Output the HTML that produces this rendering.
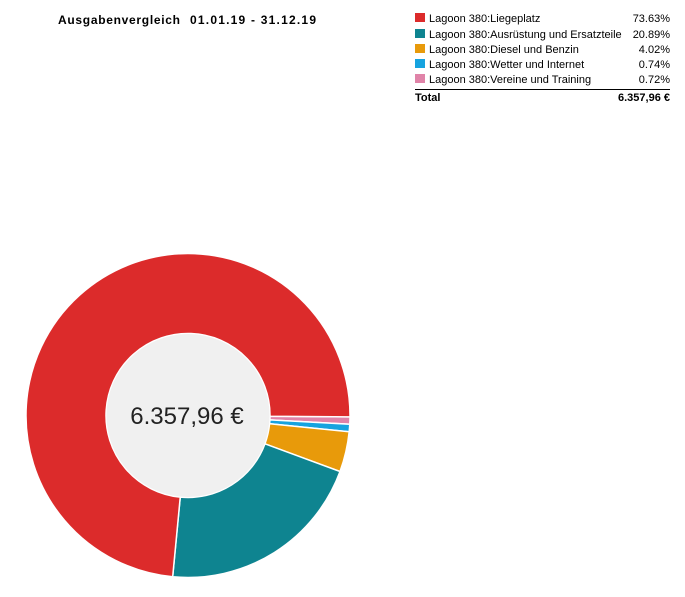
<!DOCTYPE html>
<html><head><meta charset="utf-8"><style>
body{margin:0;background:#fff;width:685px;height:592px;overflow:hidden}
</style></head><body>
<svg width="685" height="592" xmlns="http://www.w3.org/2000/svg" font-family="Liberation Sans, sans-serif">
<text x="58" y="24" font-size="12" font-weight="bold" fill="#000" textLength="122" lengthAdjust="spacing">Ausgabenvergleich</text>
<text x="190" y="24" font-size="12" font-weight="bold" fill="#000" textLength="126" lengthAdjust="spacing">01.01.19 - 31.12.19</text>
<g font-size="11" fill="#000">
<rect x="415" y="13" width="10" height="9" fill="#dc2b2b"/><text x="429" y="22">Lagoon 380:Liegeplatz</text><text x="670" y="22" text-anchor="end">73.63%</text>
<rect x="415" y="29" width="10" height="9" fill="#0e8490"/><text x="429" y="38">Lagoon 380:Ausrüstung und Ersatzteile</text><text x="670" y="38" text-anchor="end">20.89%</text>
<rect x="415" y="44" width="10" height="9" fill="#e89a0a"/><text x="429" y="53">Lagoon 380:Diesel und Benzin</text><text x="670" y="53" text-anchor="end">4.02%</text>
<rect x="415" y="59" width="10" height="9" fill="#16a3df"/><text x="429" y="68">Lagoon 380:Wetter und Internet</text><text x="670" y="68" text-anchor="end">0.74%</text>
<rect x="415" y="74" width="10" height="9" fill="#e083a8"/><text x="429" y="83">Lagoon 380:Vereine und Training</text><text x="670" y="83" text-anchor="end">0.72%</text>
<line x1="415" y1="89.5" x2="670" y2="89.5" stroke="#000" stroke-width="1"/>
<text x="415" y="101" font-weight="bold">Total</text><text x="670" y="101" text-anchor="end" font-weight="bold">6.357,96 €</text>
</g>
<g stroke="#fff" stroke-width="1.5">
<path d="M350,416.9 A162,162 0 0 1 349.76,424.24 L269.88,419.92 A82,82 0 0 0 270,416.2 Z" fill="#e083a8"/>
<path d="M349.76,424.24 A162,162 0 0 1 349.18,431.75 L269.59,423.72 A82,82 0 0 0 269.88,419.92 Z" fill="#16a3df"/>
<path d="M349.18,431.75 A162,162 0 0 1 340.01,471.51 L264.94,443.85 A82,82 0 0 0 269.59,423.72 Z" fill="#e89a0a"/>
<path d="M340.01,471.51 A162,162 0 0 1 172.67,576.77 L180.24,497.13 A82,82 0 0 0 264.94,443.85 Z" fill="#0e8490"/>
<path d="M172.67,576.77 A162,162 0 1 1 350,416.9 L270,416.2 A82,82 0 1 0 180.24,497.13 Z" fill="#dc2b2b"/>
</g>
<circle cx="188" cy="415.5" r="81.5" fill="#f0f0f0"/>
<text x="187" y="424" font-size="24" text-anchor="middle" fill="#222">6.357,96 €</text>
</svg>
</body></html>
